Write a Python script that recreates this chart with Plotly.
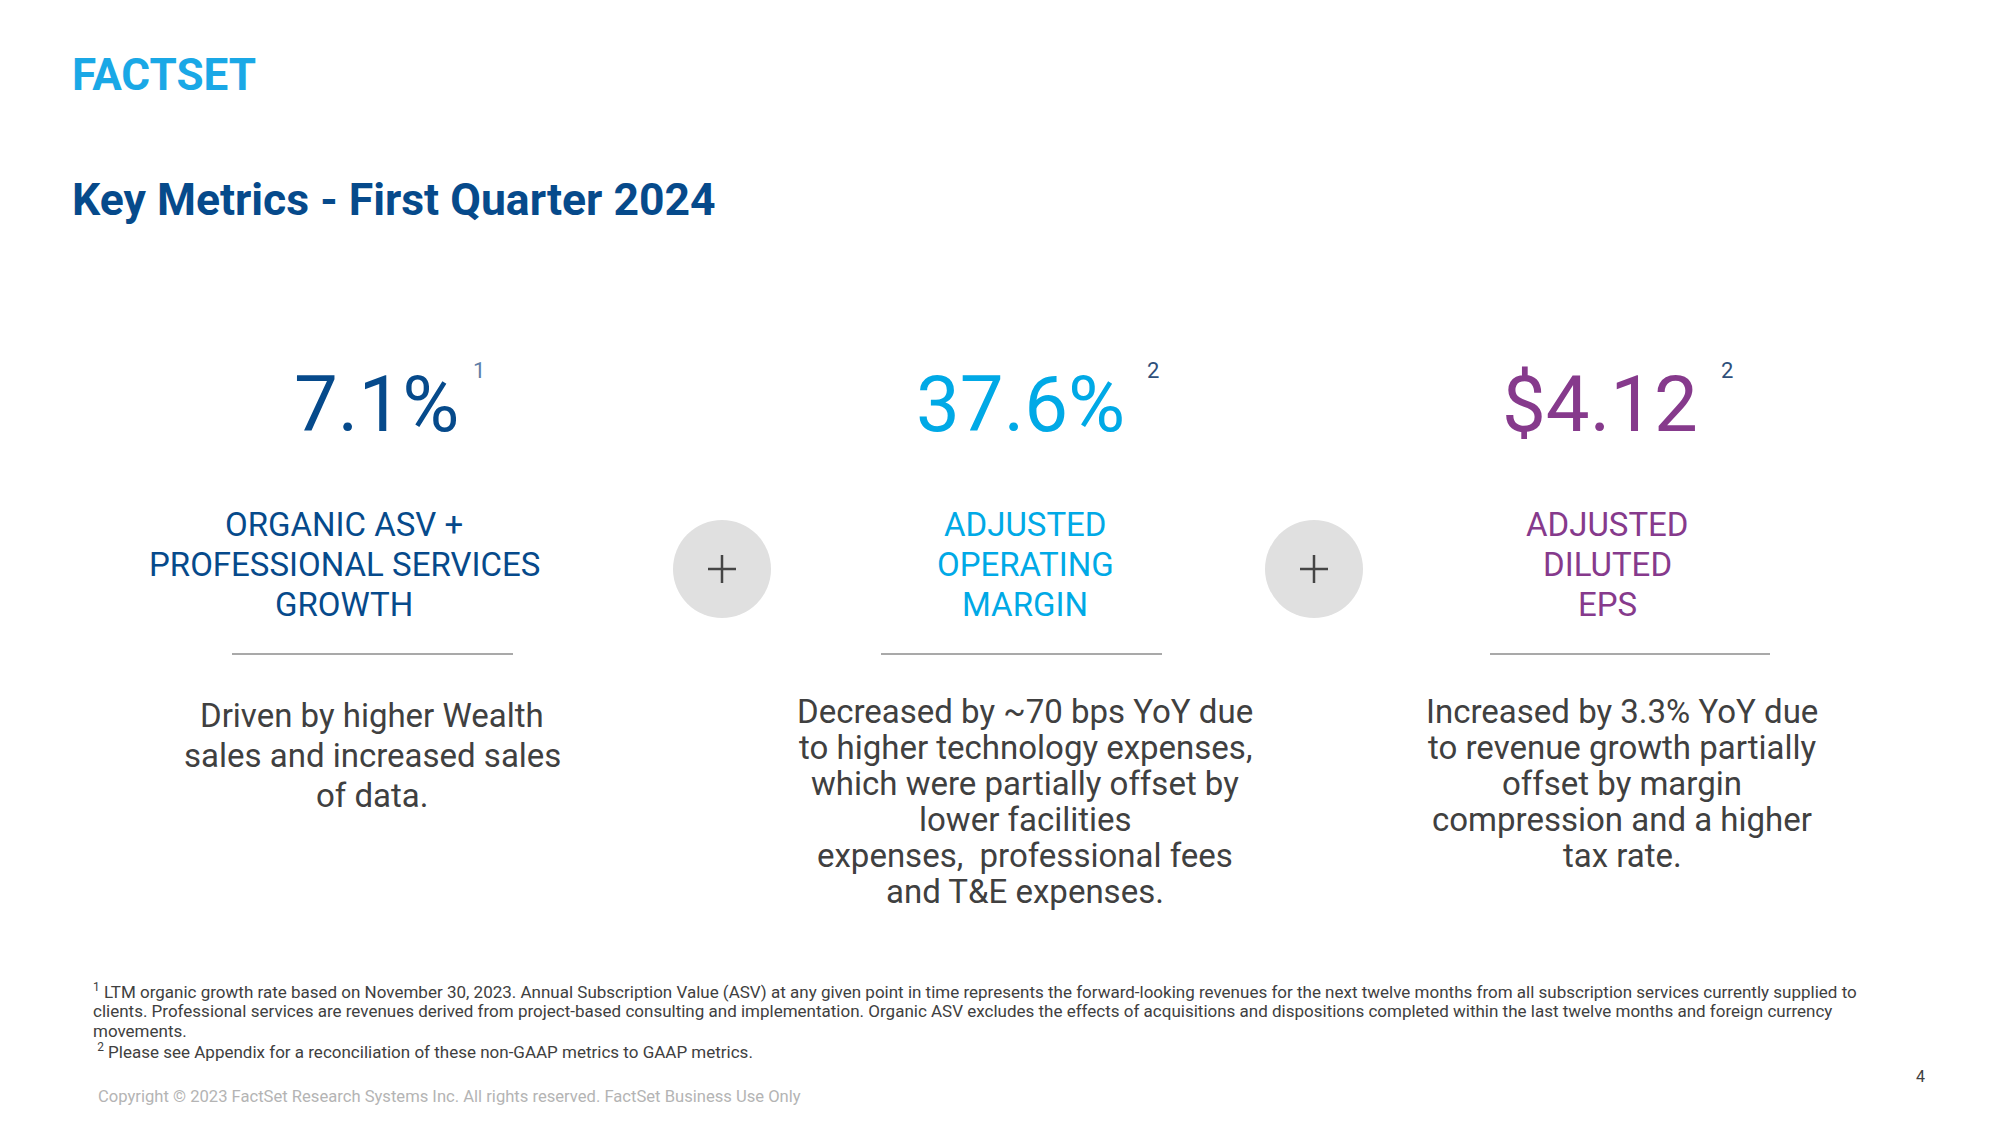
import plotly.graph_objects as go

# ---------------- data ----------------
metric_values = ["7.1%", "37.6%", "$4.12"]
metric_notes = ["1", "2", "2"]
metric_labels = [
    ["ORGANIC ASV +", "PROFESSIONAL SERVICES", "GROWTH"],
    ["ADJUSTED", "OPERATING", "MARGIN"],
    ["ADJUSTED", "DILUTED", "EPS"],
]
metric_descriptions = [
    ["Driven by higher Wealth", "sales and increased sales", "of data."],
    ["Decreased by ~70 bps YoY due", "to higher technology expenses,",
     "which were partially offset by", "lower facilities",
     "expenses,&nbsp; professional fees", "and T&E expenses."],
    ["Increased by 3.3% YoY due", "to revenue growth partially", "offset by margin",
     "compression and a higher", "tax rate."],
]
footnote_lines = [
    "<sup>1</sup> LTM organic growth rate based on November 30, 2023. Annual Subscription Value (ASV) at any given point in time represents the forward-looking revenues for the next twelve months from all subscription services currently supplied to",
    "clients. Professional services are revenues derived from project-based consulting and implementation. Organic ASV excludes the effects of acquisitions and dispositions completed within the last twelve months and foreign currency",
    "movements.",
    " <sup>2</sup> Please see Appendix for a reconciliation of these non-GAAP metrics to GAAP metrics.",
]
title_text = "Key Metrics - First Quarter 2024"
logo_text = "FACTSET"
copyright_text = "Copyright © 2023 FactSet Research Systems Inc. All rights reserved. FactSet Business Use Only"
page_number = "4"

# ---------------- layout / style ----------------
W, H = 2000, 1125
PAD = 8  # default page body margin
FONT = "Roboto"
colors = ["#064a8b", "#00a9e6", "#863a8c"]
note_colors = ["#5f7fa8", "#2e4f7a", "#2e4f7a"]
text_gray = "#404040"

num_x = [376, 1020, 1600]
num_y = 404
note_x = [479, 1153, 1727]
note_y = 370
label_x = [344, 1025, 1607]
label_y0, label_dy = 524, 40
sep_x = [(232, 513), (881, 1162), (1490, 1770)]
sep_y = 654
desc_x = [372, 1025, 1622]
desc_y0 = [715, 711, 711]
desc_dy = [40, 36, 36]
circle_x = [722, 1314]
circle_y, circle_r = 569, 49

fig = go.Figure()
ann = []
shapes = []

# logo and title
ann.append(dict(x=70, y=75, text=f"<b>{logo_text}</b>", xanchor="left", yanchor="middle",
                font=dict(family=FONT, size=44, color="#1aa8e6", weight=900)))
ann.append(dict(x=70, y=200, text=f"<b>{title_text}</b>", xanchor="left", yanchor="middle",
                font=dict(family=FONT, size=44.5, color="#064a8b")))

for i in range(3):
    ann.append(dict(x=num_x[i], y=num_y, text=metric_values[i], xanchor="center", yanchor="middle",
                    font=dict(family=FONT, size=78, color=colors[i])))
    ann.append(dict(x=note_x[i], y=note_y, text=metric_notes[i], xanchor="center", yanchor="middle",
                    font=dict(family=FONT, size=22, color=note_colors[i])))
    for j, line in enumerate(metric_labels[i]):
        ann.append(dict(x=label_x[i], y=label_y0 + j * label_dy, text=line, xanchor="center",
                        yanchor="middle", font=dict(family=FONT, size=33, color=colors[i])))
    shapes.append(dict(type="line", x0=sep_x[i][0], x1=sep_x[i][1], y0=sep_y, y1=sep_y,
                       xref="x", yref="y", line=dict(color="#8c8c8c", width=1.5)))
    for j, line in enumerate(metric_descriptions[i]):
        ann.append(dict(x=desc_x[i], y=desc_y0[i] + j * desc_dy[i], text=line, xanchor="center",
                        yanchor="middle", font=dict(family=FONT, size=33, color=text_gray)))

for cx in circle_x:
    shapes.append(dict(type="circle", x0=cx - circle_r, x1=cx + circle_r,
                       y0=circle_y - circle_r, y1=circle_y + circle_r, xref="x", yref="y",
                       fillcolor="#e0e0e0", line=dict(width=0), layer="below"))
    shapes.append(dict(type="line", x0=cx - 14, x1=cx + 14, y0=circle_y, y1=circle_y,
                       xref="x", yref="y", line=dict(color="#454545", width=2.5)))
    shapes.append(dict(type="line", x0=cx, x1=cx, y0=circle_y - 14, y1=circle_y + 14,
                       xref="x", yref="y", line=dict(color="#454545", width=2.5)))

foot_y = [991, 1011, 1031, 1051]
foot_x = [91, 91, 91, 91]
for k, line in enumerate(footnote_lines):
    ann.append(dict(x=foot_x[k], y=foot_y[k], text=line, xanchor="left", yanchor="middle",
                    font=dict(family=FONT, size=17, color=text_gray)))

ann.append(dict(x=96, y=1096, text=copyright_text, xanchor="left", yanchor="middle",
                font=dict(family=FONT, size=16.6, color="#b4b4b4")))
ann.append(dict(x=1920, y=1076, text=page_number, xanchor="center", yanchor="middle",
                font=dict(family=FONT, size=16, color=text_gray)))

for a in ann:
    a.update(xref="x", yref="y", showarrow=False)

fig.update_layout(
    width=W - 2 * PAD, height=H - 2 * PAD, margin=dict(l=0, r=0, t=0, b=0),
    paper_bgcolor="white", plot_bgcolor="white",
    xaxis=dict(range=[PAD, W - PAD], visible=False, fixedrange=True),
    yaxis=dict(range=[H - PAD, PAD], visible=False, fixedrange=True),
    annotations=ann, shapes=shapes, showlegend=False,
)
fig.write_html("out.html")
